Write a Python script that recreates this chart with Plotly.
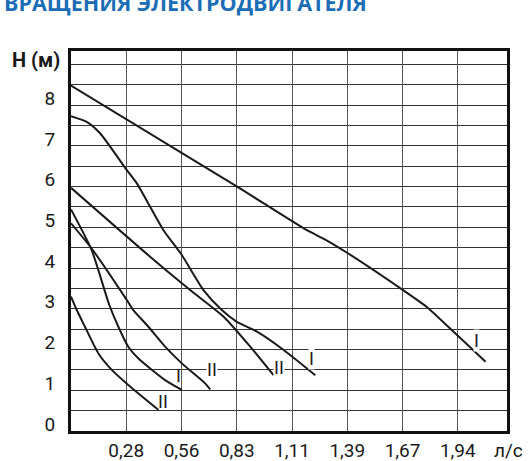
import plotly.graph_objects as go

# Flow (l/s) and head (m)
curve_a_q = [0.0, 0.835, 1.186, 1.278, 1.39, 1.669, 1.79, 1.946, 2.084]
curve_a_h = [8.48, 6.0, 4.93, 4.70, 4.37, 3.46, 3.04, 2.33, 1.70]

curve_b_q = [0.0, 0.079, 0.146, 0.28, 0.331, 0.465, 0.557, 0.666, 0.758, 0.834, 0.935, 1.069, 1.228]
curve_b_h = [7.73, 7.59, 7.31, 6.41, 6.08, 4.93, 4.32, 3.46, 2.97, 2.68, 2.44, 1.99, 1.37]

curve_c_q = [0.0, 0.414, 0.599, 0.766, 0.901, 1.018]
curve_c_h = [5.97, 4.21, 3.46, 2.81, 2.07, 1.37]

curve_d_q = [0.0, 0.104, 0.192, 0.238, 0.288, 0.339, 0.473, 0.557]
curve_d_h = [5.44, 4.44, 3.10, 2.56, 2.07, 1.78, 1.25, 1.01]

curve_e_q = [0.0, 0.104, 0.28, 0.313, 0.389, 0.473, 0.557, 0.674, 0.700]
curve_e_h = [5.10, 4.48, 3.22, 2.97, 2.56, 2.07, 1.66, 1.17, 1.02]

curve_f_q = [0.0, 0.029, 0.070, 0.137, 0.205, 0.288, 0.439]
curve_f_h = [3.30, 2.97, 2.56, 1.91, 1.50, 1.13, 0.52]

curve_labels = ["I", "I", "II", "I", "II", "II"]
label_q = [2.036, 1.211, 1.047, 0.54, 0.708, 0.464]
label_h = [2.23, 1.77, 1.56, 1.36, 1.50, 0.72]
label_bg = ["white", "white", "white", "rgba(0,0,0,0)", "white", "rgba(0,0,0,0)"]

x_tick_labels = ["0,28", "0,56", "0,83", "1,11", "1,39", "1,67", "1,94"]
M3H_TO_LS = 1 / 3.6
y_tick_values = [0, 1, 2, 3, 4, 5, 6, 7, 8]

title_text = "ВРАЩЕНИЯ ЭЛЕКТРОДВИГАТЕЛЯ"
y_title = "H (м)"
x_unit = "л/с"

FONT = "Liberation Sans Narrow, Roboto, sans-serif"

fig = go.Figure()
for q, h in [(curve_a_q, curve_a_h), (curve_b_q, curve_b_h), (curve_c_q, curve_c_h),
             (curve_d_q, curve_d_h), (curve_e_q, curve_e_h), (curve_f_q, curve_f_h)]:
    fig.add_trace(go.Scatter(x=q, y=h, mode="lines",
                             line=dict(color="#1a1a1a", width=2, shape="spline", smoothing=0.6),
                             showlegend=False, hoverinfo="skip"))

for t, q, h, bg in zip(curve_labels, label_q, label_h, label_bg):
    fig.add_annotation(x=q, y=h, text=t, showarrow=False, xanchor="center", yanchor="middle",
                       font=dict(family=FONT, size=18, color="#1a1a1a"),
                       bgcolor=bg, borderpad=0)

fig.add_annotation(xref="paper", yref="paper", x=-0.158, y=1.084, xanchor="left", yanchor="bottom",
                   text="<b>" + title_text + "</b>", showarrow=False,
                   font=dict(family="Open Sans, sans-serif", size=21.5, color="#1b6db5"))
fig.add_annotation(xref="paper", yref="paper", x=-0.080, y=0.976, xanchor="center", yanchor="middle",
                   text="<b>" + y_title + "</b>", showarrow=False,
                   font=dict(family=FONT, size=20, color="#1a1a1a"))
fig.add_annotation(xref="paper", yref="paper", x=1.003, y=-0.05, xanchor="center", yanchor="middle",
                   text=x_unit, showarrow=False,
                   font=dict(family=FONT, size=19, color="#1a1a1a"))

fig.update_xaxes(range=[0, 7.89 * M3H_TO_LS],
                 tickmode="array",
                 tickvals=[(i + 1) * M3H_TO_LS for i in range(len(x_tick_labels))],
                 ticktext=x_tick_labels,
                 ticks="", showgrid=True, gridcolor="#555", gridwidth=1.2,
                 showline=True, mirror=True, linecolor="#111", linewidth=3,
                 zeroline=False, automargin=False, ticklabelstandoff=0,
                 tickfont=dict(family=FONT, size=19, color="#1a1a1a"))
fig.update_yaxes(range=[0, 9.33],
                 tickmode="array", tickvals=y_tick_values,
                 ticktext=[str(v) for v in y_tick_values],
                 ticklabelshift=-7,
                 ticks="", showgrid=True, gridcolor="#333", gridwidth=1.2,
                 minor=dict(dtick=0.5, showgrid=True, gridcolor="#333", gridwidth=1.2),
                 showline=True, mirror=True, linecolor="#111", linewidth=3,
                 zeroline=False, automargin=False, ticklabelstandoff=9,
                 tickfont=dict(family=FONT, size=19, color="#1a1a1a"))

fig.update_layout(width=532, height=461, margin=dict(l=71, r=25, t=51, b=30),
                  paper_bgcolor="white", plot_bgcolor="white")

fig.write_html("out.html", config={"displayModeBar": False},
               post_script="document.body.style.margin='0px';")
